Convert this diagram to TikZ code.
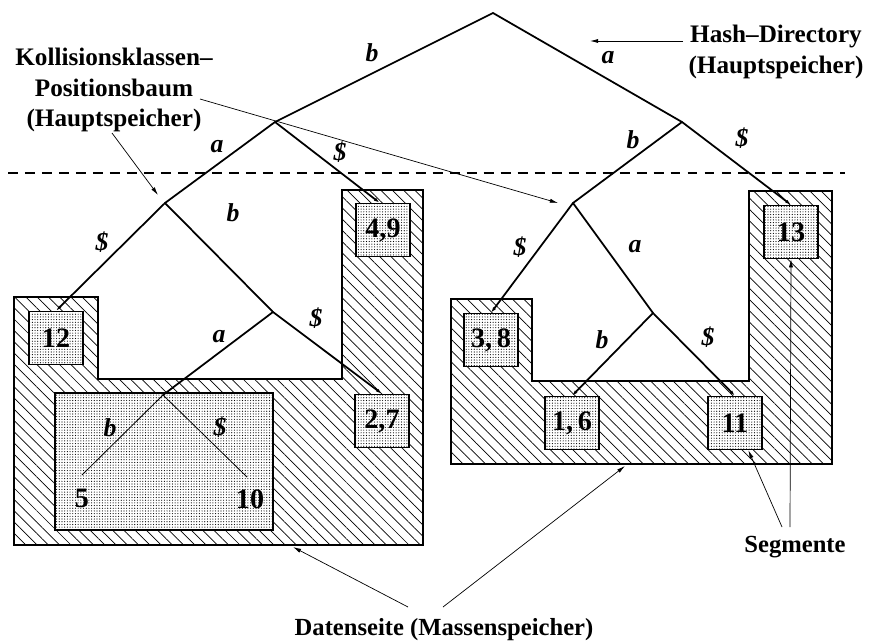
\documentclass[tikz,border=0pt]{standalone}
\usepackage{fontspec}
\setmainfont{Liberation Serif}
\usetikzlibrary{patterns.meta,arrows.meta}
\begin{document}
\begin{tikzpicture}[x=0.03cm,y=-0.03cm,
 hatch/.style={draw=black,line width=0.9pt,pattern={Lines[angle=-45,distance=6.8pt,line width=0.6pt]}},
 seg/.style={draw=black,line width=0.9pt,fill=white,postaction={pattern={Dots[distance=2.3pt,radius=0.5pt]}},minimum width=1.62cm,minimum height=1.6cm,inner sep=0pt,font=\fontsize{24}{26}\selectfont\bfseries},
 tree/.style={line width=1.5pt,line cap=round},
 thintree/.style={line width=0.7pt},
 lbl/.style={font=\fontsize{22}{24}\selectfont\bfseries\itshape,inner sep=1pt},
 txt/.style={font=\fontsize{21}{23}\selectfont\bfseries,align=center,inner sep=0pt},
 ptr/.style={line width=0.6pt,-{Latex[length=7pt,width=3.5pt]}},
 tipped/.style={-{Latex[length=5pt,width=3pt]}}
]
\useasboundingbox (0,0) rectangle (873,643);
% data pages (hatched)
\path[hatch] (14,297) -- (98,297) -- (98,379) -- (342,379) -- (342,190) -- (423,190) -- (423,545) -- (14,545) -- cycle;
\path[hatch] (451,299) -- (532,299) -- (532,381) -- (749,381) -- (749,191) -- (832,191) -- (832,464) -- (451,464) -- cycle;
% segments
\node[seg] (b49) at (383,230) {4,9};
\node[seg] (b12) at (56,338) {12};
\node[seg] (b27) at (382,421) {2,7};
\node[seg,minimum width=6.54cm,minimum height=4.11cm] (big) at (164,461.5) {};
\node[seg] (b13) at (791,232) {13};
\node[seg] (b38) at (491,340) {3,\,8};
\node[seg] (b16) at (572,423) {1,\,6};
\node[seg] (b11) at (735,423) {11};
% dashed border
\coordinate (dA) at (8,173);
\coordinate (dB) at (845,173);
\draw[line width=1.2pt,dash pattern=on 8.5pt off 6pt] (dA) -- (dB);
% tree vertices
\coordinate (root) at (493,13);
\coordinate (L1) at (275,122);
\coordinate (R1) at (682,122);
\coordinate (L2) at (165,203);
\coordinate (L3) at (273,312);
\coordinate (L4) at (163,395);
\coordinate (R2) at (573,203);
\coordinate (R3) at (653,313);
\coordinate (leaf5) at (82,475);
\coordinate (leaf10) at (247,477);
% tree edges
\draw[tree] (root) -- (L1);
\draw[tree] (root) -- (R1);
\draw[tree] (L1) -- (L2);
\draw[tree,tipped] (L1) -- ([xshift=-0.1cm]b49.north);
\draw[tree,tipped] (L2) -- (b12.north);
\draw[tree] (L2) -- (L3);
\draw[tree,tipped] (L3) -- (b27.north);
\draw[tree] (L3) -- (L4);
\draw[thintree] (L4) -- (leaf5);
\draw[thintree] (L4) -- (leaf10);
\draw[tree] (R1) -- (R2);
\draw[tree,tipped] (R1) -- (b13.north);
\draw[tree,tipped] (R2) -- (b38.north);
\draw[tree] (R2) -- (R3);
\draw[tree,tipped] (R3) -- (b16.north);
\draw[tree,tipped] (R3) -- (b11.north);
% edge labels
\node[lbl] (e1) at (372,53) {b};
\node[lbl] (e2) at (608,58) {a};
\node[lbl] (e3) at (217,147) {a};
\node[lbl] (e4) at (340,152) {\$};
\node[lbl] (e5) at (102,242) {\$};
\node[lbl] (e6) at (233,213) {b};
\node[lbl] (e7) at (316,318) {\$};
\node[lbl] (e8) at (219,337) {a};
\node[lbl] (e9) at (110,428) {b};
\node[lbl] (e10) at (220,427) {\$};
\node[lbl] (e11) at (633,140) {b};
\node[lbl] (e12) at (742,138) {\$};
\node[lbl] (e13) at (520,247) {\$};
\node[lbl] (e14) at (635,247) {a};
\node[lbl] (e15) at (602,340) {b};
\node[lbl] (e16) at (708,337) {\$};
% leaves inside big segment
\node[txt,font=\fontsize{24}{26}\selectfont\bfseries] (n5) at (82,498) {5};
\node[txt,font=\fontsize{24}{26}\selectfont\bfseries] (n10) at (250,499) {10};
% annotations
\node[txt,font=\fontsize{21.5}{26}\selectfont\bfseries] (kol) at (114,90) {Kollisionsklassen--\\Positionsbaum\\(Hauptspeicher)};
\node[txt,font=\fontsize{21.5}{26}\selectfont\bfseries] (hash) at (776,52) {Hash--Directory\\(Hauptspeicher)};
\node[txt] (segm) at (795,547) {Segmente};
\node[txt] (dat) at (444,630) {Datenseite (Massenspeicher)};
% pointers
\coordinate (kolA) at (200,99);
\coordinate (kolB) at (112,133);
\coordinate (tR2) at (558,203);
\coordinate (tL2) at (158,195);
\coordinate (hA) at (683,41);
\coordinate (hB) at (590,41);
\coordinate (sA) at (782,527);
\coordinate (sB) at (790,527);
\coordinate (dtA) at (408,607);
\coordinate (dtB) at (443,607);
\coordinate (dsL) at (293,547);
\coordinate (dsR) at (625,466);
\draw[ptr] (kolA) -- (tR2);
\draw[ptr] (kolB) -- (tL2);
\draw[ptr] (hA) -- (hB);
\draw[ptr] (sA) -- ([xshift=0.4cm]b11.south);
\draw[ptr] (sB) -- (b13.south);
\draw[ptr] (dtA) -- (dsL);
\draw[ptr] (dtB) -- (dsR);
\end{tikzpicture}
\end{document}
